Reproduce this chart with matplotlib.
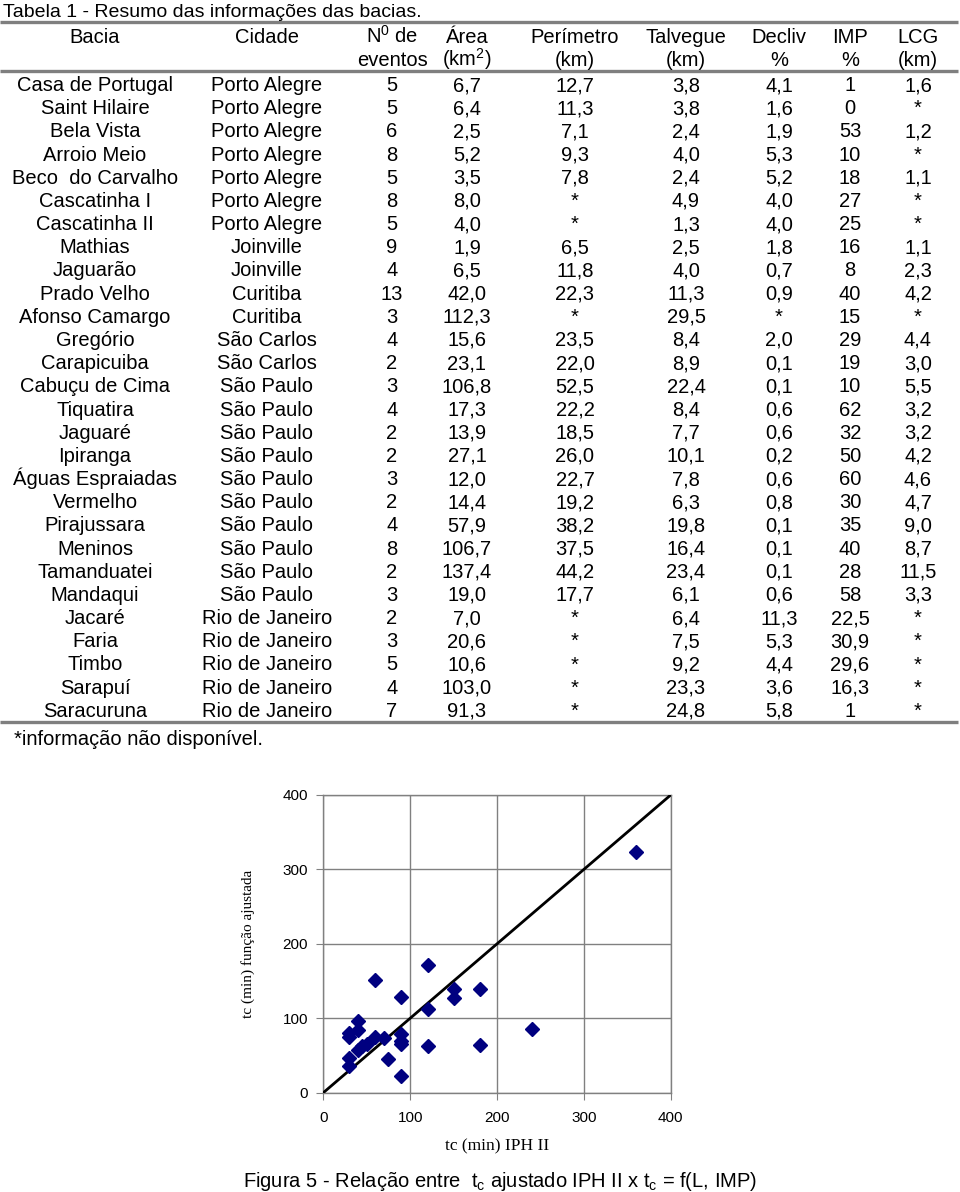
import matplotlib
matplotlib.use("Agg")
import matplotlib.pyplot as plt

plt.rcParams['font.family'] = ['Liberation Sans', 'DejaVu Sans']

# ---------------- data ----------------
title = "Tabela 1 - Resumo das informações das bacias."
headers_top = ["Bacia", "Cidade", "N$^\\mathregular{0}$ de", "Área", "Perímetro", "Talvegue", "Decliv", "IMP", "LCG"]
headers_bot = ["", "", "eventos", "(km$^\\mathregular{2}$)", "(km)", "(km)", "%", "%", "(km)"]

bacia = ["Casa de Portugal", "Saint Hilaire", "Bela Vista", "Arroio Meio", "Beco  do Carvalho",
         "Cascatinha I", "Cascatinha II", "Mathias", "Jaguarão", "Prado Velho", "Afonso Camargo",
         "Gregório", "Carapicuiba", "Cabuçu de Cima", "Tiquatira", "Jaguaré", "Ipiranga",
         "Águas Espraiadas", "Vermelho", "Pirajussara", "Meninos", "Tamanduatei", "Mandaqui",
         "Jacaré", "Faria", "Timbo", "Sarapuí", "Saracuruna"]
cidade = ["Porto Alegre"] * 7 + ["Joinville"] * 2 + ["Curitiba"] * 2 + ["São Carlos"] * 2 + \
         ["São Paulo"] * 10 + ["Rio de Janeiro"] * 5
n_eventos = ["5", "5", "6", "8", "5", "8", "5", "9", "4", "13", "3", "4", "2", "3", "4", "2", "2",
             "3", "2", "4", "8", "2", "3", "2", "3", "5", "4", "7"]
area = ["6,7", "6,4", "2,5", "5,2", "3,5", "8,0", "4,0", "1,9", "6,5", "42,0", "112,3", "15,6", "23,1",
        "106,8", "17,3", "13,9", "27,1", "12,0", "14,4", "57,9", "106,7", "137,4", "19,0", "7,0",
        "20,6", "10,6", "103,0", "91,3"]
perimetro = ["12,7", "11,3", "7,1", "9,3", "7,8", "*", "*", "6,5", "11,8", "22,3", "*", "23,5", "22,0",
             "52,5", "22,2", "18,5", "26,0", "22,7", "19,2", "38,2", "37,5", "44,2", "17,7", "*", "*",
             "*", "*", "*"]
talvegue = ["3,8", "3,8", "2,4", "4,0", "2,4", "4,9", "1,3", "2,5", "4,0", "11,3", "29,5", "8,4", "8,9",
            "22,4", "8,4", "7,7", "10,1", "7,8", "6,3", "19,8", "16,4", "23,4", "6,1", "6,4", "7,5",
            "9,2", "23,3", "24,8"]
decliv = ["4,1", "1,6", "1,9", "5,3", "5,2", "4,0", "4,0", "1,8", "0,7", "0,9", "*", "2,0", "0,1", "0,1",
          "0,6", "0,6", "0,2", "0,6", "0,8", "0,1", "0,1", "0,1", "0,6", "11,3", "5,3", "4,4", "3,6", "5,8"]
imp = ["1", "0", "53", "10", "18", "27", "25", "16", "8", "40", "15", "29", "19", "10", "62", "32", "50",
       "60", "30", "35", "40", "28", "58", "22,5", "30,9", "29,6", "16,3", "1"]
lcg = ["1,6", "*", "1,2", "*", "1,1", "*", "*", "1,1", "2,3", "4,2", "*", "4,4", "3,0", "5,5", "3,2",
       "3,2", "4,2", "4,6", "4,7", "9,0", "8,7", "11,5", "3,3", "*", "*", "*", "*", "*"]
footnote = "*informação não disponível."

# scatter data: tc IPH II (min) vs tc fitted function (min)
tc_iph = [60, 120, 90, 150, 150, 180, 120, 40, 30, 40, 30, 60, 70, 90, 90, 90, 50, 44, 40, 30, 30,
          75, 90, 120, 180, 240, 360]
tc_fit = [152, 172, 128, 140, 127, 140, 112, 96, 80, 84, 75, 75, 73, 79, 69, 65, 66, 63, 58, 47, 36,
          45, 22, 63, 64, 86, 324]
line_x = [0, 400]
line_y = [0, 400]
ticks = [0, 100, 200, 300, 400]
caption = "Figura 5 - Relação entre  t$_\\mathregular{c}$ ajustado IPH II x t$_\\mathregular{c}$ = f(L, IMP)"

# ---------------- figure ----------------
W, H = 960, 1192
fig = plt.figure(figsize=(W / 100, H / 100), dpi=100)

pg = fig.add_axes([0, 0, 1, 1])
pg.set_xlim(0, W)
pg.set_ylim(H, 0)
pg.axis('off')

fs = 14.5
pg.text(3, 17, title, fontsize=14, ha='left', va='baseline')

col_x = [95, 267, 392, 467, 575, 686, 779, 850, 918]
for x, t, b in zip(col_x, headers_top, headers_bot):
    pg.text(x, 42.7, t, fontsize=fs, ha='center', va='baseline')
    if b:
        pg.text(x, 66, b, fontsize=fs, ha='center', va='baseline')

cols = [bacia, cidade, n_eventos, area, perimetro, talvegue, decliv, imp, lcg]
yb0, dy = 91.0, 23.18
for i in range(len(bacia)):
    y = yb0 + i * dy
    for x, col in zip(col_x, cols):
        pg.text(x, y, col[i], fontsize=fs, ha='center', va='baseline')

for yy in (22, 70.5, 722):
    pg.plot([0, 958], [yy, yy], color='#7f7f7f', lw=2.4, solid_capstyle='butt')

pg.text(14, 745, footnote, fontsize=fs, ha='left', va='baseline')
pg.text(500, 1187, caption, fontsize=fs, ha='center', va='baseline')

# scatter axes
x0p, x1p = 323.3, 670.7
ytp, ybp = 795.0, 1092.7
ax = fig.add_axes([x0p / W, 1 - ybp / H, (x1p - x0p) / W, (ybp - ytp) / H])
ax.set_xlim(0, 400)
ax.set_ylim(0, 400)
ax.set_xticks(ticks)
ax.set_yticks(ticks)
ax.grid(True, color='#808080', lw=1)
ax.set_axisbelow(True)
for s in ax.spines.values():
    s.set_color('#808080')
    s.set_linewidth(1)
ax.tick_params(axis='y', length=5, color='#808080', labelsize=11, pad=6)
ax.tick_params(axis='x', length=5, color='#808080', labelsize=11, pad=8)
ax.plot(line_x, line_y, color='black', lw=2, zorder=3)
ax.plot(tc_iph, tc_fit, linestyle='none', marker='D', markersize=7.5, color='#000080', zorder=4,
        clip_on=False)
ax.set_xlabel("tc (min) IPH II", family='Liberation Serif', fontsize=12.5, labelpad=10)
ax.set_ylabel("tc (min) função ajustada", family='Liberation Serif', fontsize=11, labelpad=20)

fig.savefig("out.png", dpi=100)
